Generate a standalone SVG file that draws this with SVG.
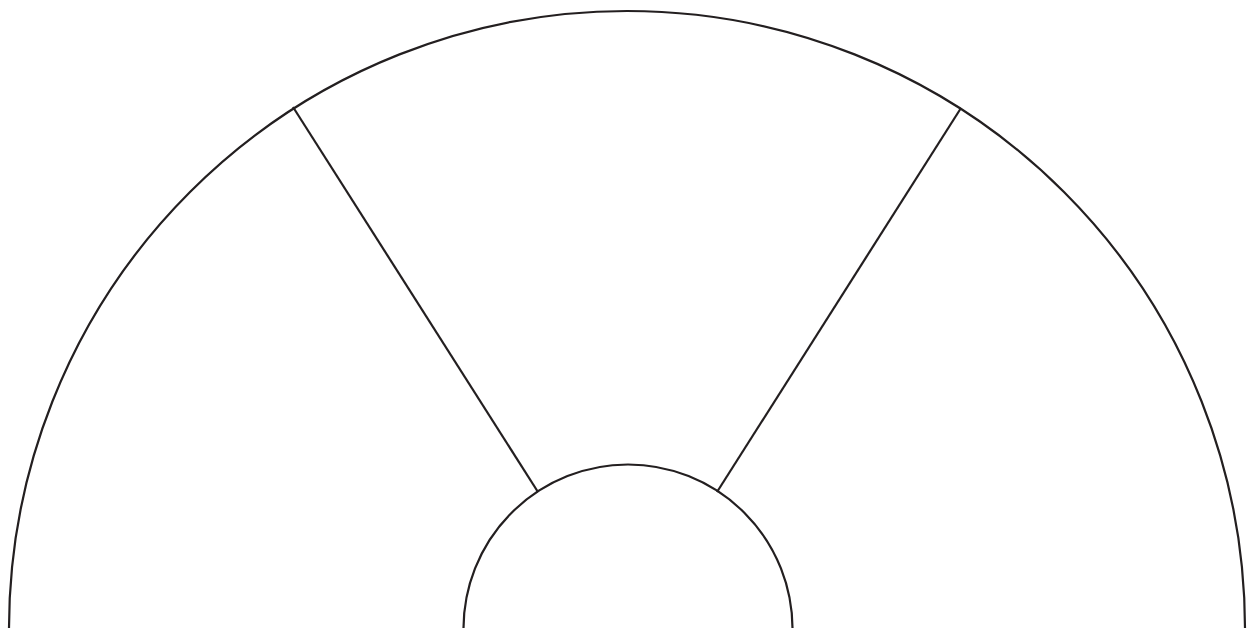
<svg xmlns="http://www.w3.org/2000/svg" width="1250" height="628" viewBox="0 0 1250 628">
<style>
.s{fill:none;stroke:#231f20;stroke-width:2.2}
</style>
<rect width="1250" height="628" fill="#fff"/>
<g id="outer"><path class="s" d="M 9 629 A 618 618 0 0 1 1245 629"/></g>
<g id="inner"><path class="s" d="M 463.5 629 A 164.5 164.5 0 0 1 792.5 629"/></g>
<g id="connectors">
<line class="s" x1="293" y1="107" x2="538" y2="492"/>
<line class="s" x1="961" y1="108" x2="717" y2="492"/>
</g>
</svg>
